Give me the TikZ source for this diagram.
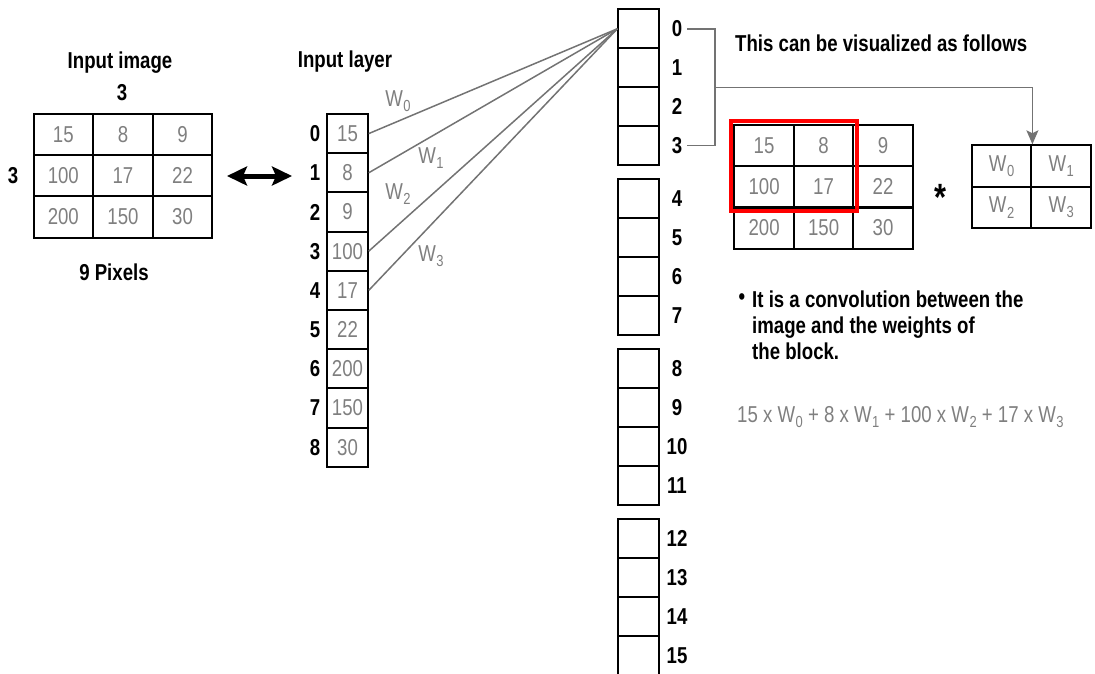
\documentclass[tikz,border=0pt]{standalone}
\usepackage{fontspec}
\setmainfont{Liberation Sans}[FakeStretch=0.81]
\usetikzlibrary{arrows.meta}
\definecolor{txtgray}{HTML}{7F7F7F}
\definecolor{lngray}{HTML}{737373}
\newcommand\Wsub[1]{W\kern0.5pt\raisebox{-5.5pt}{\fontsize{16}{16}\selectfont #1}}
\begin{document}
\begin{tikzpicture}[x=1pt,y=-1pt,
  font=\fontsize{23}{26}\selectfont,
  blk/.style={font=\fontsize{23}{26}\selectfont\bfseries, text=black, inner sep=0pt},
  gtxt/.style={font=\fontsize{23}{26}\selectfont, text=txtgray, inner sep=0pt},
  gcell/.style={draw=black, line width=2pt, minimum width=59.6pt, minimum height=41.4pt, inner sep=0pt, text=txtgray, font=\fontsize{23}{26}\selectfont},
  incell/.style={draw=black, line width=2pt, minimum width=40.4pt, minimum height=39.2pt, inner sep=0pt, text=txtgray, font=\fontsize{23}{26}\selectfont},
  outcell/.style={draw=black, line width=2pt, minimum width=40.7pt, minimum height=38.9pt, inner sep=0pt},
  wline/.style={draw=lngray, line width=1.5pt},
  redbox/.style={draw=red, line width=4pt},
  dblarrow/.style={line width=5pt, {Stealth[length=20pt,width=19pt,inset=4pt]}-{Stealth[length=20pt,width=19pt,inset=4pt]}},
  garrow/.style={draw=lngray, line width=1.5pt, -{Stealth[length=14pt,width=12pt,inset=3pt,fill=lngray]}}
]
\useasboundingbox (0,0) rectangle (1095,673);
\clip (0,0) rectangle (1095,673);

% ---------- Input image ----------
\node[blk] (titleimg) at (120,63) {Input image};
\node[blk] (topthree) at (122,93) {3};
\node[blk] (leftthree) at (13,176) {3};
\node[blk] (pixels) at (114,272) {9 Pixels};
\node[gcell] (a11) at (63.3,134.2) {15};
\node[gcell] (a12) at (123.0,134.2) {8};
\node[gcell] (a13) at (182.6,134.2) {9};
\node[gcell] (a21) at (63.3,175.6) {100};
\node[gcell] (a22) at (123.0,175.6) {17};
\node[gcell] (a23) at (182.6,175.6) {22};
\node[gcell] (a31) at (63.3,217.0) {200};
\node[gcell] (a32) at (123.0,217.0) {150};
\node[gcell] (a33) at (182.6,217.0) {30};

% double arrow
\coordinate (dA) at (227,176);
\coordinate (dB) at (292,176);
\draw[dblarrow] (dA) -- (dB);

% ---------- Input layer ----------
\node[blk] (titlelayer) at (345,62) {Input layer};
\foreach \i/\v in {0/15,1/8,2/9,3/100,4/17,5/22,6/200,7/150,8/30}{
  \node[incell] (in\i) at (347.5,{133.6+39.2*\i}) {\v};
  \node[blk] (inl\i) at (315,{133.6+39.2*\i}) {\i};
}

% ---------- Output column ----------
\foreach \g in {0,1,2,3}{
  \foreach \j in {0,1,2,3}{
    \pgfmathtruncatemacro{\k}{4*\g+\j}
    \node[outcell] (o\k) at (638.7,{9.3+170*\g+38.9*(\j+0.5)}) {};
    \node[blk] (ol\k) at (677,{9.3+170*\g+38.9*(\j+0.5)}) {\k};
  }
}

% weight lines
\draw[wline] (in0.east) -- (o0.west);
\draw[wline] (in1.east) -- (o0.west);
\draw[wline] (in3.east) -- (o0.west);
\draw[wline] (in4.east) -- (o0.west);
\node[gtxt] (w0lab) at (398,101) {\Wsub{0}};
\node[gtxt] (w1lab) at (431,158) {\Wsub{1}};
\node[gtxt] (w2lab) at (398,194) {\Wsub{2}};
\node[gtxt] (w3lab) at (431,256) {\Wsub{3}};

% bracket and arrow
\coordinate (bx) at (715,87.5);
\draw[wline] ([xshift=5pt]ol0.east) -| (bx) |- ([xshift=5pt]ol3.east);

% ---------- visualization ----------
\node[blk, anchor=base west] (vis) at (735,51) {This can be visualized as follows};
\node[gcell] (b11) at (764.1,145.7) {15};
\node[gcell] (b12) at (823.6,145.7) {8};
\node[gcell] (b13) at (883.1,145.7) {9};
\node[gcell] (b21) at (764.1,186.8) {100};
\node[gcell] (b22) at (823.6,186.8) {17};
\node[gcell] (b23) at (883.1,186.8) {22};
\node[gcell] (b31) at (764.1,227.9) {200};
\node[gcell] (b32) at (823.6,227.9) {150};
\node[gcell] (b33) at (883.1,227.9) {30};
\draw[redbox] ([shift={(-2.7,-2.7)}]b11.north west) rectangle ([shift={(2.7,2.7)}]b22.south east);

\node[blk, font=\fontsize{38}{38}\selectfont\bfseries] (star) at (940,197) {*};

\node[gcell] (c0) at (1001.6,166.0) {\Wsub{0}};
\node[gcell] (c1) at (1061.2,166.0) {\Wsub{1}};
\node[gcell] (c2) at (1001.6,207.4) {\Wsub{2}};
\node[gcell] (c3) at (1061.2,207.4) {\Wsub{3}};

\draw[garrow] (bx) -| (c0.north east);

% bullet text
\node[blk] (bul) at (742,299) {•};
\node[blk, anchor=north west, align=left] (bultext) at (752,290.5) {It is a convolution between the\\image and the weights of\\the block.};

% formula
\node[gtxt, anchor=base west] (formula) at (737,422) {15 x \Wsub{0} + 8 x \Wsub{1} + 100 x \Wsub{2} + 17 x \Wsub{3}};
\end{tikzpicture}
\end{document}
